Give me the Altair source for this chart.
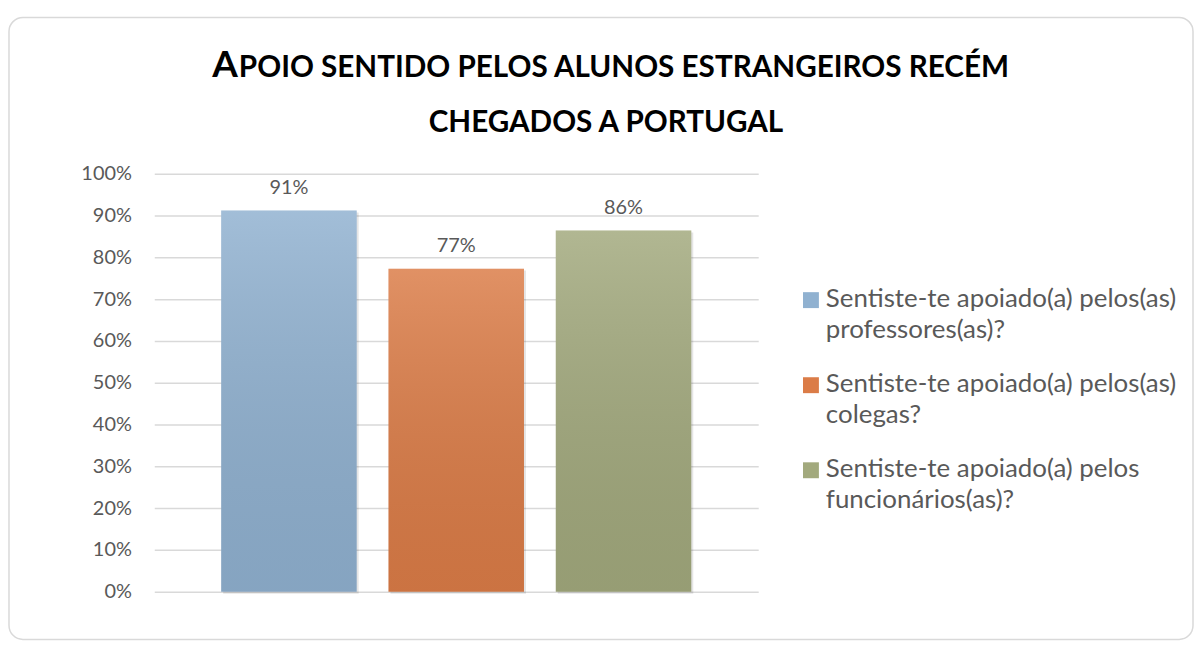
import altair as alt
import pandas as pd

# ---- data ----
SERIES = [
    "Sentiste-te apoiado(a) pelos(as) professores(as)?",
    "Sentiste-te apoiado(a) pelos(as) colegas?",
    "Sentiste-te apoiado(a) pelos funcionários(as)?",
]
LEGEND_LINES = [
    ["Sentiste-te apoiado(a) pelos(as)", "professores(as)?"],
    ["Sentiste-te apoiado(a) pelos(as)", "colegas?"],
    ["Sentiste-te apoiado(a) pelos", "funcionários(as)?"],
]
VALUES = [0.912, 0.773, 0.864]
COLORS = ["#90b1d0", "#db7c47", "#a2a97d"]
Y_TICKS = [0, 0.1, 0.2, 0.3, 0.4, 0.5, 0.6, 0.7, 0.8, 0.9, 1.0]
TITLE_CAP = "A"
TITLE_LINE1 = "POIO SENTIDO PELOS ALUNOS ESTRANGEIROS RECÉM"
TITLE_LINE2 = "CHEGADOS A PORTUGAL"

FONT = "Lato"
W, H = 607, 420

df = pd.DataFrame({"serie": SERIES, "valor": VALUES})

# legend label expression (multi-line)
parts = []
for name, lines in zip(SERIES, LEGEND_LINES):
    arr = "[" + ",".join("'" + l + "'" for l in lines) + "]"
    parts.append(f"datum.label == '{name}' ? {arr} : ")
label_expr = "".join(parts) + "datum.label"

x_enc = alt.X("serie:N", sort=SERIES, axis=None,
              scale=alt.Scale(paddingInner=0.19, paddingOuter=0.4))
y_enc = alt.Y("valor:Q", scale=alt.Scale(domain=[0, 1]),
              axis=alt.Axis(values=Y_TICKS, format=".0%", grid=True, ticks=False,
                            domain=False, labelPadding=23, labelFontSize=20,
                            labelFont=FONT, labelColor="#595959",
                            gridColor="#d9d9d9", gridWidth=1.5, title=None))

base = alt.Chart(df)

shadow = base.mark_bar(color="#000000", opacity=0.10, xOffset=2, yOffset=2).encode(
    x=x_enc, y=y_enc)

bars = base.mark_bar().encode(
    x=x_enc, y=y_enc,
    color=alt.Color("serie:N", sort=SERIES,
                    scale=alt.Scale(domain=SERIES, range=COLORS),
                    legend=alt.Legend(
                        orient="none", legendX=647, legendY=121, title=None,
                        symbolType="M-1,-1.875H1V0.125H-1Z", symbolSize=256,
                        symbolStrokeWidth=0,
                        labelFont=FONT, labelFontSize=26, labelColor="#595959",
                        labelBaseline="alphabetic",
                        labelOffset=2, labelLimit=600, rowPadding=28.5,
                        labelExpr=label_expr,
                    )),
)

overlay = base.mark_bar(color={
    "x1": 0, "y1": 0, "x2": 0, "y2": 1, "gradient": "linear",
    "stops": [{"offset": 0, "color": "rgba(255,255,255,0.16)"},
              {"offset": 1, "color": "rgba(0,0,0,0.07)"}]}).encode(x=x_enc, y=y_enc)

labels = base.mark_text(baseline="alphabetic", dy=-17, fontSize=20, font=FONT,
                        color="#595959").encode(
    x=x_enc, y=y_enc, text=alt.Text("valor:Q", format=".0%"))

frame = alt.Chart(alt.Data(values=[{"k": 1}])).mark_rect(
    cornerRadius=14, fillOpacity=0, stroke="#d9d9d9", strokeWidth=1.5).encode(
    x=alt.value(-146), x2=alt.value(1044), y=alt.value(-157), y2=alt.value(468))

t_cap = alt.Chart(alt.Data(values=[{"t": TITLE_CAP}])).mark_text(
    align="right", baseline="alphabetic", font=FONT, fontWeight="bold",
    fontSize=37, color="#000000").encode(
    text="t:N", x=alt.value(84), y=alt.value(-97))
t_line1 = alt.Chart(alt.Data(values=[{"t": TITLE_LINE1}])).mark_text(
    align="left", baseline="alphabetic", font=FONT, fontWeight="bold",
    fontSize=29.8, color="#000000").encode(
    text="t:N", x=alt.value(85), y=alt.value(-97))
t_line2 = alt.Chart(alt.Data(values=[{"t": TITLE_LINE2}])).mark_text(
    align="center", baseline="alphabetic", font=FONT, fontWeight="bold",
    fontSize=29.8, color="#000000").encode(
    text="t:N", x=alt.value(454), y=alt.value(-42))

chart = alt.layer(frame, shadow, bars, overlay, labels, t_cap, t_line1, t_line2).properties(
    width=W, height=H,
    autosize=alt.AutoSizeParams(type="none"),
    padding={"left": 147, "top": 165, "right": 438, "bottom": 50},
).configure(view=alt.ViewConfig(strokeWidth=0),
            style={"guide-label": {"lineHeight": 31}})

chart.save("out.html", embed_options={"renderer": "svg", "actions": False})
